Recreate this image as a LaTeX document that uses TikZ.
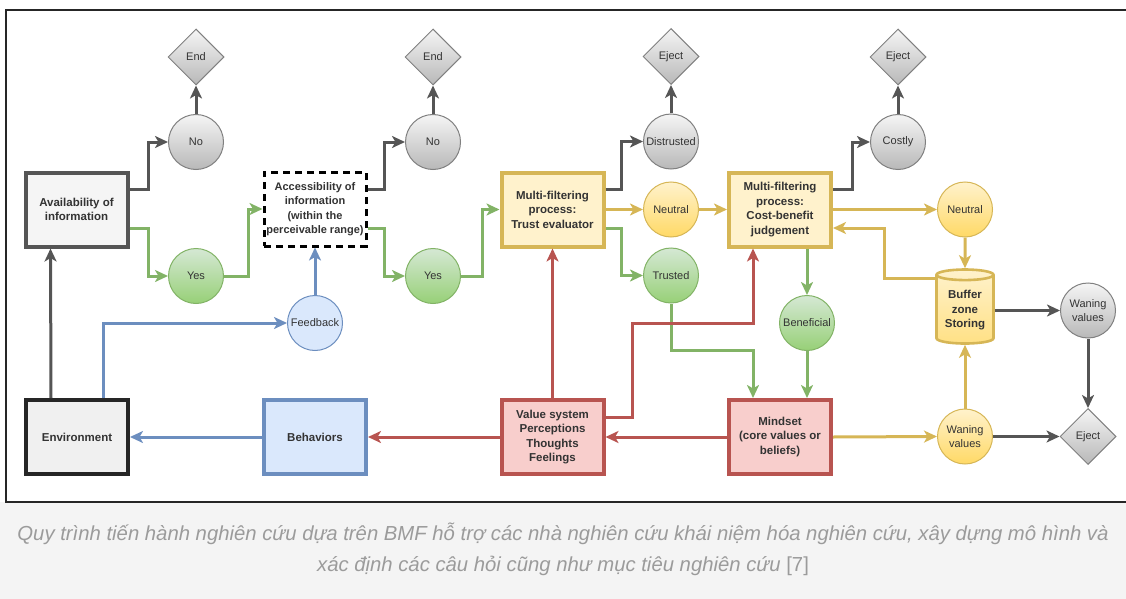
\documentclass[tikz,border=0pt]{standalone}
\usepackage{fontspec}
\setmainfont{Liberation Sans}
\newfontfamily\capfont{Liberation Sans}
\usetikzlibrary{arrows.meta, shapes.geometric, positioning}

\definecolor{txtGray}{HTML}{333333}
\definecolor{lineGray}{HTML}{555555}
\definecolor{circGray}{HTML}{808080}
\definecolor{lineGreen}{HTML}{82B366}
\definecolor{lineYellow}{HTML}{D6B656}
\definecolor{lineRed}{HTML}{B85450}
\definecolor{lineBlue}{HTML}{6C8EBF}
\definecolor{fillGray}{HTML}{F5F5F5}
\definecolor{shadeGray}{HTML}{B8B8B8}
\definecolor{fillGreen}{HTML}{D5E8D4}
\definecolor{shadeGreen}{HTML}{97D077}
\definecolor{fillYellow}{HTML}{FFF2CC}
\definecolor{shadeYellow}{HTML}{FFD966}
\definecolor{fillRed}{HTML}{F8CECC}
\definecolor{fillBlue}{HTML}{DAE8FC}
\definecolor{capGray}{HTML}{9B9B9B}
\definecolor{capBack}{HTML}{F4F4F4}

\begin{document}
\begin{tikzpicture}[x=1pt, y=1pt,
		>={Stealth[length=13pt, width=12pt, inset=3.5pt]},
		node distance=85pt,
		every node/.style={text=txtGray, font=\fontsize{11}{14.5}\selectfont},
		bigbox/.style={rectangle, draw, line width=4pt, minimum width=102pt,
			minimum height=74pt, align=center, inner sep=2pt,
			font=\fontsize{11.5}{14.5}\selectfont\bfseries},
		smallcirc/.style={circle, draw, line width=1pt, minimum size=55pt,
			inner sep=0pt, align=center},
		graycirc/.style={smallcirc, draw=circGray, top color=fillGray, bottom color=shadeGray},
		greencirc/.style={smallcirc, draw=lineGreen, top color=fillGreen, bottom color=shadeGreen},
		yellowcirc/.style={smallcirc, draw=lineYellow, top color=fillYellow, bottom color=shadeYellow},
		endmark/.style={diamond, draw=circGray, line width=1pt, minimum width=56pt,
			minimum height=56pt, inner sep=0pt, top color=fillGray, bottom color=shadeGray},
		grayline/.style={draw=lineGray, line width=3pt},
		greenline/.style={draw=lineGreen, line width=3pt},
		yellowline/.style={draw=lineYellow, line width=3pt},
		redline/.style={draw=lineRed, line width=3pt},
		blueline/.style={draw=lineBlue, line width=3pt}
		]
		\useasboundingbox (0,0) rectangle (1126,-599);
		\fill[capBack] (0,-502) rectangle (1126,-599);
		\draw[black!85, line width=1.5pt] (1126,-10) -- (6,-10) -- (6,-502) -- (1126,-502);

		% first column
		\node[bigbox, draw=lineGray, fill=fillGray](avail) at (76.5,-209.5){Availability of\\information};
		\node[greencirc](yes1) at (196,-276){Yes};
		\node[graycirc, above of = yes1, yshift = 49pt](no1){No};
		\node[endmark, above of = no1](end1){End};
		\draw[grayline,->] ([yshift=20pt]avail.east) -- ++(19,0) |- (no1);
		\draw[grayline,->] (no1) -- (end1);
		\draw[greenline,->] ([yshift=-19pt]avail.east) -- ++(19,0) |- (yes1);

		% accessibility
		\node[bigbox, draw=black, dashed, dash pattern=on 7pt off 5pt, line width=3pt, fill=white,
			font=\fontsize{11}{14.5}\selectfont\bfseries](access) at (315,-209){Accessibility of\\information\\(within the\\perceivable range)};
		\draw[greenline,->] (yes1.east) -- ++(24,0) |- (access);
		\node[greencirc, right of = yes1, xshift = 152pt](yes2){Yes};
		\node[graycirc, above of = yes2, yshift = 49pt](no2){No};
		\node[endmark, above of = no2](end2){End};
		\draw[grayline,->] ([yshift=20pt]access.east) -- ++(17,0) |- (no2);
		\draw[grayline,->] (no2) -- (end2);
		\draw[greenline,->] ([yshift=-19pt]access.east) -- ++(17,0) |- (yes2);

		% trust evaluator
		\node[bigbox, draw=lineYellow, fill=fillYellow](trust) at (552.5,-209.5){Multi-filtering\\process:\\Trust evaluator};
		\draw[greenline,->] (yes2.east) -- ++(21,0) |- (trust);
		\node[yellowcirc, right of = trust, xshift = 33.5pt](neutral1){Neutral};
		\node[graycirc, above of = neutral1, yshift = -17pt](distr){Distrusted};
		\node[endmark, above of = distr](eject1){Eject};
		\node[greencirc, below of = neutral1, yshift = 19pt](trusted){Trusted};
		\draw[grayline,->] ([yshift=20pt]trust.east) -- ++(16,0) |- (distr);
		\draw[grayline,->] (distr) -- (eject1);
		\draw[yellowline,->] (trust.east |- neutral1) -- (neutral1);
		\draw[greenline,->] ([yshift=-19pt]trust.east) -- ++(16,0) |- (trusted);

		% cost-benefit
		\node[bigbox, draw=lineYellow, fill=fillYellow, right of = neutral1, xshift = 24pt](cb){Multi-filtering\\process:\\Cost-benefit\\judgement};
		\draw[yellowline,->] (neutral1) -- (cb.west |- neutral1);
		\node[graycirc](costly) at (898,-142){Costly};
		\node[endmark, above of = costly](eject2){Eject};
		\draw[grayline,->] ([yshift=20pt]cb.east) -- ++(19,0) |- (costly);
		\draw[grayline,->] (costly) -- (eject2);
		\node[yellowcirc, right of = cb, xshift = 100pt](neutral2){Neutral};
		\draw[yellowline,->] (cb.east |- neutral2) -- (neutral2);

		% buffer zone
		\node[cylinder, shape border rotate=90, aspect=0.25, draw=lineYellow, line width=2.6pt,
			minimum width=57pt, minimum height=74pt, inner sep=1pt, align=center,
			top color=fillYellow, bottom color=shadeYellow!70!fillYellow,
			font=\fontsize{11.5}{14.5}\selectfont\bfseries,
			below of = neutral2, yshift = -16pt](buffer){Buffer\\zone\\Storing};
		\draw[yellowline,->] (neutral2) -- (buffer);
		\draw[yellowline,->] ([xshift=-28.5pt, yshift=32pt]buffer.center) -- ++(-52,0) |- ([yshift=-18.5pt]cb.east);
		\node[graycirc, right of = buffer, xshift = 38pt](waning1){Waning\\values};
		\draw[grayline,->] (buffer.east |- waning1) -- (waning1);
		\node[yellowcirc, below of = buffer, yshift = -41pt](waning2){Waning\\values};
		\node[endmark, right of = waning2, xshift = 38pt](eject3){Eject};
		\draw[yellowline,->] (waning2) -- (buffer);
		\draw[grayline,->] (waning1) -- (eject3);
		\draw[grayline,->] (waning2) -- (eject3);

		% bottom row
		\node[bigbox, draw=lineRed, fill=fillRed](mindset) at (780,-437){Mindset\\(core values or\\beliefs)};
		\node[greencirc, above of = mindset, xshift = 27pt, yshift = 29pt](benef){Beneficial};
		\draw[greenline,->] (benef |- cb.south) -- (benef);
		\draw[greenline,->] (benef) -- (benef |- mindset.north);
		\draw[greenline,->] (trusted) -- ++(0,-75) -| ([xshift=-27pt]mindset.north);
		\draw[yellowline,->] (mindset.east) -- (waning2.west);

		\node[bigbox, draw=lineRed, fill=fillRed](value) at (552.5,-437){Value system\\Perceptions\\Thoughts\\Feelings};
		\draw[redline,->] (mindset) -- (value);
		\draw[redline,->] (value) -- (trust);
		\draw[redline,->] ([yshift=20pt]value.east) -- ++(27,0) -- ++(0,94) -| ([xshift=-27pt]cb.south);

		\node[bigbox, draw=lineBlue, fill=fillBlue](behav) at (315,-437){Behaviors};
		\draw[redline,->] (value) -- (behav);
		\node[smallcirc, draw=lineBlue, fill=fillBlue, above of = behav, yshift = 29pt](feedback){Feedback};
		\draw[blueline,->] (feedback) -- (access);

		\node[bigbox, draw=black!85, fill=gray!12](env) at (77,-437){Environment};
		\draw[blueline,->] (behav) -- (env);
		\draw[grayline,->] ([xshift=-26pt]env.north) -- ([xshift=-26pt]avail.south);
		\draw[blueline,->] ([xshift=26pt]env.north) |- (feedback);

		% caption
		\node[font=\capfont\itshape\fontsize{20.3}{31}\selectfont, text=capGray, align=center](caption) at (563,-549){Quy trình tiến hành nghiên cứu dựa trên BMF hỗ trợ các nhà nghiên cứu khái niệm hóa nghiên cứu, xây dựng mô hình và\\xác định các câu hỏi cũng như mục tiêu nghiên cứu {\upshape[7]}};
	\end{tikzpicture}
\end{document}
